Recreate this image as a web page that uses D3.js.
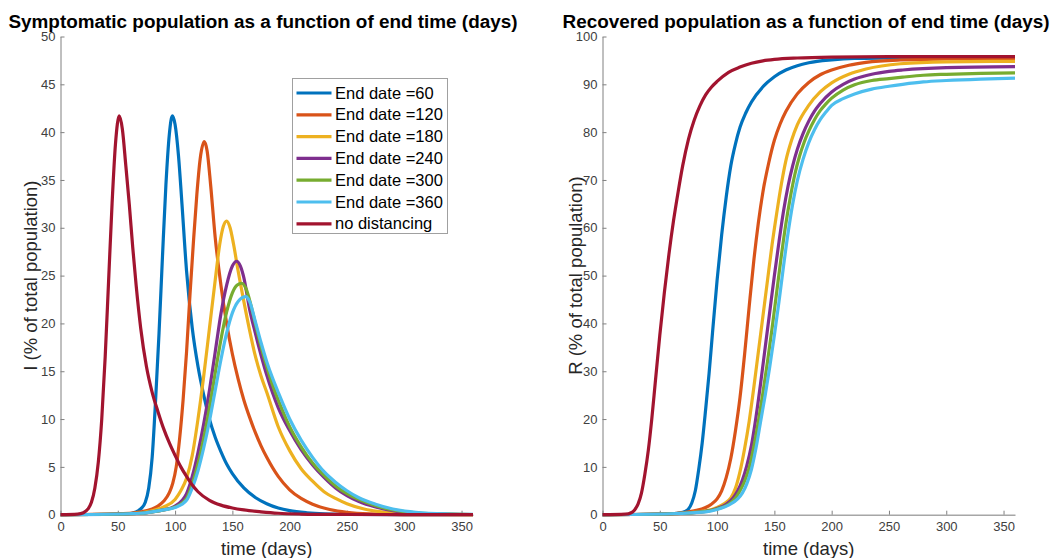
<!DOCTYPE html>
<html>
<head>
<meta charset="utf-8">
<script src="https://cdn.jsdelivr.net/npm/d3@7"></script>
<style>
  html, body { margin: 0; padding: 0; background: #fff; }
  svg { display: block; font-family: "Liberation Sans", Arial, Helvetica, sans-serif; }
</style>
</head>
<body>
<svg id="chart" width="1057" height="558"></svg>
<script>
// ---------------- DATA ----------------
const seriesNames = ["End date =60", "End date =120", "End date =180", "End date =240", "End date =300", "End date =360", "no distancing"];
const xTicks = [0, 50, 100, 150, 200, 250, 300, 350];
const yTicksI = [0, 5, 10, 15, 20, 25, 30, 35, 40, 45, 50];
const yTicksR = [0, 10, 20, 30, 40, 50, 60, 70, 80, 90, 100];

// Symptomatic population I (% of total) : [day, value]
const iEnd60 = [[0,0],[40,0.02],[60,0.1],[65,0.25],[70,0.6],[74,1.3],[77,2.8],[80,6],[83,12],[86,19],[89,27],[92,34.5],[95,39.8],[97.6,41.7],[100,40.8],[103,37.5],[106,32.5],[110,25.5],[115,19.5],[120,15.5],[125,12.5],[130,10],[135,8.1],[140,6.6],[145,5.3],[150,4.3],[160,2.8],[170,1.8],[180,1.15],[190,0.7],[200,0.42],[215,0.2],[230,0.09],[260,0.02],[300,0],[360,0]];
const iEnd120 = [[0,0],[60,0.15],[70,0.3],[80,0.6],[85,0.9],[90,1.4],[95,2.3],[98,3.3],[101,5],[104,8],[107,12],[110,17],[113,23],[116,28.5],[119,33.5],[122,37.3],[125.5,39],[128,38],[131,34.5],[135,29],[140,24],[145,20],[150,16.8],[155,14.2],[160,12],[165,10.2],[170,8.6],[175,7.2],[180,6],[190,4],[200,2.6],[210,1.7],[220,1.1],[235,0.55],[250,0.25],[270,0.08],[300,0.01],[360,0]];
const iEnd180 = [[0,0],[60,0.1],[80,0.4],[90,0.8],[100,1.6],[105,2.5],[110,3.8],[115,6.2],[120,10],[125,14.5],[130,19.5],[135,24.5],[139,28.3],[142,30.1],[145,30.7],[148,30],[151,28.3],[155,25.5],[160,22.3],[165,19.3],[170,16.6],[175,14.5],[180,12.8],[190,9.2],[200,6.7],[210,4.8],[220,3.5],[230,2.4],[240,1.7],[250,1.15],[265,0.6],[280,0.3],[300,0.12],[330,0.03],[360,0.01]];
const iEnd240 = [[0,0],[60,0.1],[70,0.15],[80,0.3],[90,0.5],[100,0.9],[110,2.2],[115,4],[120,6.5],[125,9.5],[130,13],[135,17],[140,21],[145,24],[150,26],[153.7,26.5],[157,26],[160,24.8],[165,21.5],[170,19],[175,16.7],[180,14.6],[190,11.2],[200,8.8],[210,6.8],[220,5.2],[230,3.9],[240,2.8],[250,2],[260,1.4],[275,0.8],[290,0.42],[310,0.17],[340,0.04],[360,0.02]];
const iEnd300 = [[0,0],[60,0.1],[70,0.15],[80,0.3],[90,0.5],[100,0.8],[110,1.7],[115,3.2],[120,5.3],[125,8],[130,11.2],[135,14.8],[140,18.3],[145,21.2],[150,23.2],[154,24],[158.2,24.2],[162,23.6],[166,22],[170,20],[175,17.6],[180,15.5],[185,13.6],[190,12],[200,9.2],[210,7.1],[220,5.4],[230,4.1],[240,3],[250,2.2],[260,1.6],[275,0.95],[290,0.5],[310,0.2],[340,0.05],[360,0.02]];
const iEnd360 = [[0,0],[60,0.1],[70,0.15],[80,0.3],[90,0.5],[100,0.75],[110,1.5],[115,2.8],[120,4.6],[125,7],[130,9.8],[135,13],[140,16.2],[145,19],[150,21.1],[155,22.3],[161.8,22.8],[165,22.3],[170,20.2],[175,18],[180,16],[185,14.3],[190,12.8],[200,10],[210,7.8],[220,6],[230,4.5],[240,3.4],[250,2.5],[260,1.8],[275,1.1],[290,0.6],[310,0.25],[340,0.07],[360,0.03]];
const iNoDist = [[0,0],[15,0.05],[20,0.2],[24,0.6],[27,1.3],[30,2.8],[33,5.5],[36,10],[39,16.5],[42,24.5],[45,32.5],[48,38.8],[51.3,41.7],[54,40.3],[57,36.5],[60,32.5],[63,28],[66,24],[70,19.5],[75,15.5],[80,12.8],[85,10.8],[90,9],[95,7.5],[100,6.2],[105,5],[110,4],[115,3.1],[120,2.4],[130,1.5],[140,1],[150,0.7],[160,0.5],[175,0.3],[190,0.15],[210,0.07],[250,0.02],[300,0],[360,0]];

// Recovered population R (% of total) : [day, value]
const rEnd60 = [[0,0],[60,0.2],[70,0.5],[75,1.2],[78,2.5],[81,5],[84,9.5],[87,15],[90,22],[93,29.5],[96,38],[100,49],[104,58.5],[108,66.5],[112,73],[116,77.5],[120,81],[125,84],[130,86.3],[140,89.5],[150,91.6],[160,93],[170,93.9],[180,94.5],[200,95.1],[220,95.4],[250,95.5],[300,95.6],[360,95.6]];
const rEnd120 = [[0,0],[60,0.2],[80,0.8],[90,1.5],[95,2.2],[100,3.3],[104,5],[108,7.8],[112,11.8],[116,17.5],[120,24.5],[124,33.5],[128,43.5],[132,53],[136,61],[140,67.5],[145,73.5],[150,78.3],[155,81.7],[160,84.3],[170,88],[180,90.4],[190,92],[200,93],[215,94],[230,94.6],[260,95.1],[300,95.3],[360,95.4]];
const rEnd180 = [[0,0],[60,0.2],[90,0.8],[100,1.5],[106,2.3],[112,3.5],[116,5.5],[120,9],[124,13.8],[128,19.5],[132,26.5],[136,34],[140,41.5],[144,49],[148,56.5],[152,63],[156,69],[160,74],[165,78.3],[170,81.5],[180,85.6],[190,88.4],[200,90.3],[215,92.1],[230,93.2],[260,94.3],[300,94.7],[360,94.8]];
const rEnd240 = [[0,0],[60,0.2],[90,0.7],[100,1.3],[108,2.2],[114,3.5],[118,5],[122,7.2],[126,10.3],[130,14.5],[134,20.5],[138,27.5],[142,35],[146,42.5],[150,50],[154,57],[158,63.5],[162,68.8],[166,73],[170,76.4],[175,79.7],[180,82.3],[185,84.4],[190,86],[200,88.4],[210,90],[220,91.1],[235,92.1],[250,92.7],[262,93],[300,93.5],[360,93.7]];
const rEnd300 = [[0,0],[60,0.2],[90,0.7],[100,1.2],[110,2.2],[116,3.5],[120,5],[124,7],[128,9.8],[132,14.2],[136,19.5],[140,25.5],[144,32],[148,39],[152,46.5],[156,54],[160,60.8],[164,66.5],[168,71.3],[172,75],[176,77.9],[180,80.2],[185,82.6],[190,84.5],[195,85.9],[200,87.1],[210,88.8],[220,89.9],[235,90.8],[250,91.2],[262,91.5],[280,91.9],[300,92.1],[330,92.3],[360,92.4]];
const rEnd360 = [[0,0],[60,0.2],[90,0.6],[100,1.1],[110,2],[118,3.3],[122,4.5],[126,6.5],[130,9.5],[134,14],[138,19.5],[142,25],[146,31],[150,37.5],[154,44.5],[158,52],[162,59],[166,65],[170,69.8],[175,74.3],[180,77.8],[185,80.5],[190,82.6],[195,84.2],[200,85.6],[210,87],[220,88],[235,89],[250,89.6],[262,90],[280,90.5],[300,90.8],[330,91.1],[360,91.3]];
const rNoDist = [[0,0],[20,0.1],[25,0.4],[28,1],[31,2.2],[34,4.5],[37,8.5],[40,13.5],[43,20],[46,27.5],[50,37.5],[54,46.5],[58,54.5],[62,61.5],[66,67.5],[70,73],[75,78.5],[80,82.5],[85,85.5],[90,87.8],[95,89.4],[100,90.6],[110,92.5],[120,93.6],[130,94.4],[140,94.9],[150,95.2],[170,95.5],[200,95.7],[250,95.8],[300,95.8],[360,95.8]];

const iSeries = [iEnd60, iEnd120, iEnd180, iEnd240, iEnd300, iEnd360, iNoDist];
const rSeries = [rEnd60, rEnd120, rEnd180, rEnd240, rEnd300, rEnd360, rNoDist];

// ---------------- STYLE ----------------
const colors = ["#0072BD", "#D95319", "#EDB120", "#7E2F8E", "#77AC30", "#4DBEEE", "#A2142F"];
const FONT = "'Liberation Sans', Arial, Helvetica, sans-serif";

const svg = d3.select("#chart");

function panel(cfg) {
  const x = d3.scaleLinear().domain([0, 360]).range([cfg.x0, cfg.x1]);
  const y = d3.scaleLinear().domain([0, cfg.yMax]).range([cfg.y0, cfg.y1]);
  const g = svg.append("g");

  // x axis
  const xa = g.append("g").attr("transform", `translate(0,${cfg.y0})`)
    .call(d3.axisBottom(x).tickValues(xTicks).tickSizeInner(-4).tickSizeOuter(0).tickPadding(7));
  xa.select(".domain").attr("stroke", "#a6a6a6").attr("stroke-width", 1.6);
  xa.selectAll(".tick line").attr("stroke", "#808080");
  xa.selectAll(".tick text").attr("fill", "#404040").attr("font-size", 13).attr("font-family", FONT);

  // y axis
  const ya = g.append("g").attr("transform", `translate(${cfg.x0},0)`)
    .call(d3.axisLeft(y).tickValues(cfg.yTicks).tickSizeInner(-4).tickSizeOuter(0).tickPadding(5));
  ya.select(".domain").attr("stroke", "#808080").attr("stroke-width", 1);
  ya.selectAll(".tick line").attr("stroke", "#808080");
  ya.selectAll(".tick text").attr("fill", "#404040").attr("font-size", 13).attr("font-family", FONT);

  // lines
  const line = d3.line().x(d => x(d[0])).y(d => y(d[1])).curve(d3.curveMonotoneX);
  cfg.series.forEach((s, i) => {
    g.append("path").datum(s).attr("d", line)
      .attr("fill", "none").attr("stroke", colors[i]).attr("stroke-width", 3.2)
      .attr("stroke-linejoin", "round").attr("stroke-linecap", "butt");
  });

  // title
  g.append("text").attr("x", cfg.titleX).attr("y", 28)
    .attr("text-anchor", "middle").attr("font-weight", "bold").attr("font-size", 18.9)
    .attr("font-family", FONT).attr("fill", "#000").text(cfg.title);
  // x label
  g.append("text").attr("x", (cfg.x0 + cfg.x1) / 2).attr("y", 554.5)
    .attr("text-anchor", "middle").attr("font-size", 18.5).attr("font-family", FONT)
    .attr("fill", "#262626").text("time (days)");
  // y label
  g.append("text").attr("transform", `translate(${cfg.ylx},${(cfg.y0 + cfg.y1) / 2}) rotate(-90)`)
    .attr("text-anchor", "middle").attr("font-size", 18.5).attr("font-family", FONT)
    .attr("fill", "#262626").text(cfg.ylabel);
  return { g, x, y };
}

panel({ x0: 60.5, x1: 473, y0: 514.7, y1: 36.5, yMax: 50, yTicks: yTicksI, series: iSeries,
  title: "Symptomatic population as a function of end time (days)", titleX: 263,
  ylabel: "I (% of total population)", ylx: 37 });
panel({ x0: 602.5, x1: 1015, y0: 514.7, y1: 36.5, yMax: 100, yTicks: yTicksR, series: rSeries,
  title: "Recovered population as a function of end time (days)", titleX: 806,
  ylabel: "R (% of total population)", ylx: 582 });

// legend
const lg = svg.append("g").attr("transform", "translate(292.5,78.5)");
lg.append("rect").attr("width", 155).attr("height", 155).attr("fill", "#fff").attr("stroke", "#a0a0a0").attr("stroke-width", 1);
seriesNames.forEach((name, i) => {
  const cy = 14.5 + i * 21.8;
  lg.append("line").attr("x1", 4).attr("x2", 39).attr("y1", cy).attr("y2", cy)
    .attr("stroke", colors[i]).attr("stroke-width", 3.2);
  lg.append("text").attr("x", 42.5).attr("y", cy + 5.6).attr("font-size", 16.5).attr("font-family", FONT)
    .attr("fill", "#000").text(name);
});
</script>
</body>
</html>
